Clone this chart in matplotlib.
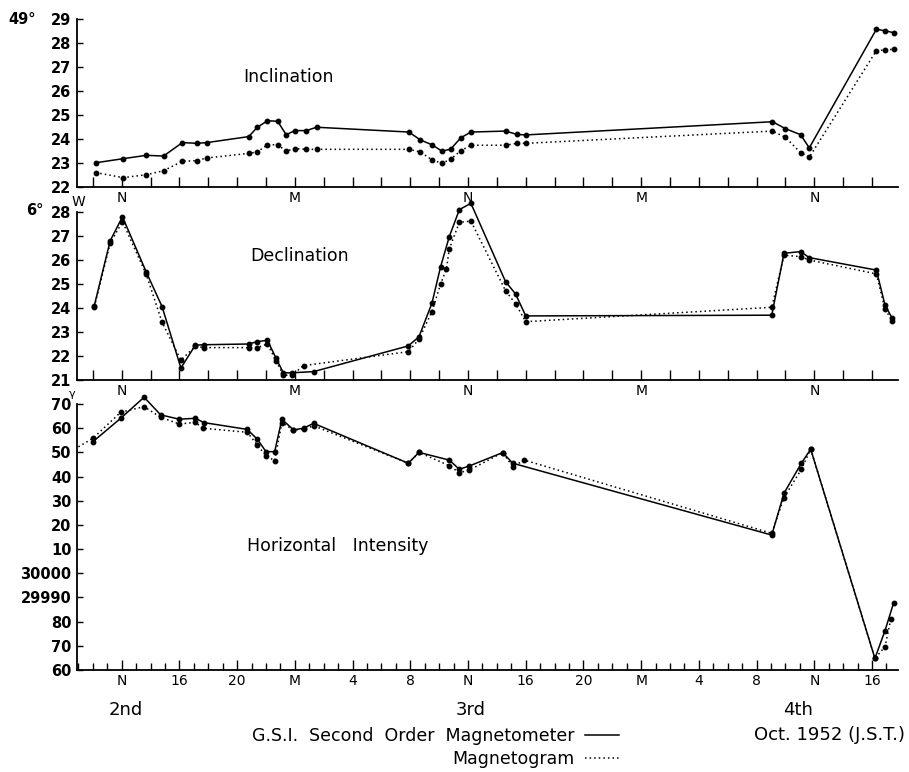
import matplotlib
matplotlib.use("Agg")
import matplotlib.pyplot as plt
from matplotlib.lines import Line2D
import numpy as np

# ---------------- data (hours counted from 00h, Oct 2nd, J.S.T.) ----------------
inc_hours = [10.2, 12.1, 13.7, 14.9, 16.2, 17.2, 17.9, 20.8, 21.4, 22.1, 22.8, 23.4, 24.0,
             24.8, 25.5, 31.9, 32.7, 33.5, 34.2, 34.8, 35.5, 36.2, 38.6, 39.4, 40.0,
             57.1, 58.0, 59.05, 59.65, 64.3, 64.9, 65.5]
inc_gsi = [23.01, 23.18, 23.32, 23.29, 23.85, 23.82, 23.85, 24.10, 24.49, 24.76, 24.74, 24.18,
           24.35, 24.35, 24.49, 24.29, 23.96, 23.76, 23.49, 23.58, 24.05, 24.29, 24.33, 24.19,
           24.17, 24.72, 24.43, 24.18, 23.63, 28.57, 28.51, 28.43]
inc_mag = [22.60, 22.39, 22.51, 22.68, 23.07, 23.10, 23.21, 23.40, 23.46, 23.76, 23.76, 23.50,
           23.60, 23.57, 23.57, 23.57, 23.46, 23.13, 22.99, 23.16, 23.51, 23.74, 23.74, 23.82,
           23.82, 24.33, 24.07, 23.43, 23.24, 27.68, 27.71, 27.74]

dec_gsi_hours = [10.1, 11.2, 12.05, 13.7, 14.8, 16.1, 17.1, 17.7, 20.8, 21.4, 22.1, 22.7, 23.2,
                 23.8, 25.3, 31.86, 32.6, 33.5, 34.1, 34.7, 35.4, 36.2, 38.6, 39.3, 40.0,
                 57.05, 57.9, 59.05, 59.65, 64.3, 64.9, 65.4]
dec_gsi = [24.10, 26.80, 27.80, 25.50, 24.05, 21.50, 22.45, 22.47, 22.50, 22.60, 22.65, 21.90,
           21.30, 21.30, 21.35, 22.42, 22.80, 24.20, 25.72, 26.97, 28.10, 28.36, 25.10, 24.58,
           23.67, 23.70, 26.28, 26.35, 26.10, 25.58, 24.12, 23.57]
dec_mag_hours = [10.1, 11.2, 12.05, 13.7, 14.8, 16.1, 17.1, 17.7, 20.8, 21.4, 22.1, 22.7, 23.2,
                 23.8, 24.6, 31.86, 32.6, 33.5, 34.1, 34.5, 34.7, 35.4, 36.2, 38.6, 39.3, 40.0,
                 57.05, 57.9, 59.05, 59.65, 64.3, 64.9, 65.4]
dec_mag = [24.05, 26.70, 27.60, 25.40, 23.40, 21.83, 22.40, 22.35, 22.35, 22.35, 22.50, 21.80,
           21.20, 21.20, 21.60, 22.18, 22.70, 23.85, 25.00, 25.62, 26.45, 27.57, 27.62, 24.72,
           24.17, 23.43, 24.03, 26.20, 26.14, 26.00, 25.42, 23.95, 23.47]

hor_gsi_hours = [10.0, 11.93, 13.55, 14.7, 16.0, 17.1, 17.7, 20.7, 21.4, 22.0, 22.6, 23.1, 23.9,
                 24.6, 25.3, 31.86, 32.6, 34.7, 35.4, 36.1, 38.4, 39.1, 57.05, 57.9, 59.1,
                 59.75, 64.2, 64.9, 65.5]
hor_gsi = [30054.4, 30064.1, 30072.8, 30065.5, 30063.7, 30064.1, 30062.3, 30059.5, 30055.4,
           30050.3, 30050.3, 30063.7, 30059.3, 30060.0, 30062.0, 30045.5, 30050.0, 30046.8,
           30043.0, 30044.4, 30049.9, 30045.5, 30015.8, 30033.1, 30045.5, 30051.3, 29964.8,
           29976.3, 29987.8]
hor_mag_hours = [9.0, 10.0, 11.93, 13.55, 14.7, 16.0, 17.1, 17.6, 20.7, 21.4, 22.0, 22.6, 23.1,
                 23.9, 24.6, 25.3, 31.86, 32.6, 34.7, 35.4, 36.1, 38.4, 39.1, 39.9, 57.05,
                 57.9, 59.1, 59.75, 64.2, 64.9, 65.3]
hor_mag = [30052.3, 30055.8, 30066.6, 30068.9, 30064.5, 30061.7, 30062.4, 30060.0, 30058.3,
           30053.0, 30048.5, 30046.6, 30062.3, 30059.3, 30059.5, 30061.0, 30045.5, 30050.0,
           30044.5, 30041.6, 30042.7, 30049.9, 30044.1, 30046.8, 30016.5, 30031.3, 30043.0,
           30051.3, 29964.8, 29969.6, 29981.0]

inc_ticks = [22, 23, 24, 25, 26, 27, 28, 29]
dec_ticks = [21, 22, 23, 24, 25, 26, 27, 28]
hor_ticks = [29960, 29970, 29980, 29990, 30000, 30010, 30020, 30030, 30040, 30050, 30060, 30070]
hor_tick_labels = ["60", "70", "80", "29990", "30000", "10", "20", "30", "40", "50", "60", "70"]

top_label_hours = [12, 24, 36, 48, 60]
top_label_text = ["N", "M", "N", "M", "N"]
bottom_label_hours = [12, 16, 20, 24, 28, 32, 36, 40, 44, 48, 52, 56, 60, 64]
bottom_label_text = ["N", "16", "20", "M", "4", "8", "N", "16", "20", "M", "4", "8", "N", "16"]
day_hours = [12.3, 36.2, 58.9]
day_text = ["2nd", "3rd", "4th"]

# ---------------- layout ----------------
W, H = 909, 772
fig = plt.figure(figsize=(W / 100, H / 100), dpi=100)
plt.rcParams['font.family'] = ['DejaVu Sans']

def ax_rect(x0, x1, ytop, ybot):
    return [x0 / W, 1 - ybot / H, (x1 - x0) / W, (ybot - ytop) / H]

def fx(px):
    return px / W

def fy(py):
    return 1 - py / H

x0, x1 = 77, 898
ax1 = fig.add_axes(ax_rect(x0, x1, 19, 187))
ax2 = fig.add_axes(ax_rect(x0, x1, 212, 380))
ax3 = fig.add_axes(ax_rect(x0, x1, 404, 670))

XMIN, XMAX = 8.9, 65.8
tick_font = dict(fontsize=10.5, fontweight='bold')

solid_kw = dict(color='black', linestyle='-', linewidth=1.1, marker='o', markersize=3.2,
                clip_on=False)
dot_kw = dict(color='black', linestyle=(0, (1, 2)), linewidth=1.1, marker='o', markersize=3.2,
              clip_on=False)

for ax in (ax1, ax2, ax3):
    ax.set_xlim(XMIN, XMAX)
    for s in ('top', 'right'):
        ax.spines[s].set_visible(False)
    ax.spines['left'].set_linewidth(1.3)
    ax.spines['bottom'].set_linewidth(1.3)
    ax.tick_params(axis='y', direction='in', length=4, width=1, pad=4, labelsize=10.5)
    ax.tick_params(axis='x', direction='in', length=7, width=1, pad=3, labelsize=10)
    ax.patch.set_alpha(0)

even_hours = np.arange(10, 66, 2)
top_labels = [top_label_text[top_label_hours.index(h)] if h in top_label_hours else ""
              for h in even_hours]

# Inclination
ax1.plot(inc_hours, inc_gsi, **solid_kw)
ax1.plot(inc_hours, inc_mag, **dot_kw)
ax1.set_ylim(22, 29)
ax1.set_yticks(inc_ticks)
ax1.set_yticklabels([str(t) for t in inc_ticks], **tick_font)
ax1.set_xticks(even_hours)
ax1.set_xticklabels(top_labels, fontsize=10)
ax1.text(9.0, -0.045, "W", transform=ax1.get_xaxis_transform(), ha='center', va='top',
         fontsize=10)
fig.text(fx(8), fy(19), "49°", ha='left', va='center', **tick_font)
fig.text(fx(243), fy(77), "Inclination", fontsize=12.5, va='center', ha='left')

# Declination
ax2.plot(dec_gsi_hours, dec_gsi, **solid_kw)
ax2.plot(dec_mag_hours, dec_mag, **dot_kw)
ax2.set_ylim(21, 28)
ax2.set_yticks(dec_ticks)
ax2.set_yticklabels([str(t) for t in dec_ticks], **tick_font)
ax2.set_xticks(even_hours)
ax2.set_xticklabels(top_labels, fontsize=10)
fig.text(fx(26), fy(210), "6°", ha='left', va='center', **tick_font)
fig.text(fx(250), fy(256), "Declination", fontsize=12.5, va='center', ha='left')

# Horizontal intensity
ax3.plot(hor_gsi_hours, hor_gsi, **solid_kw)
ax3.plot(hor_mag_hours, hor_mag, markevery=slice(1, None), **dot_kw)
ax3.set_ylim(29960, 30070)
ax3.set_yticks(hor_ticks)
ax3.set_yticklabels(hor_tick_labels, **tick_font)
ax3.set_xticks(np.arange(9, 66, 1), minor=True)
ax3.set_xticks(bottom_label_hours)
ax3.set_xticklabels(bottom_label_text, fontsize=10)
ax3.tick_params(axis='x', which='minor', direction='in', length=5, width=1)
fig.text(fx(69), fy(394), "γ", ha='left', va='center', fontsize=8)
fig.text(fx(247), fy(546), "Horizontal   Intensity", fontsize=12.5, va='center', ha='left')

# day labels
for h, t in zip(day_hours, day_text):
    ax3.text(h, -0.15, t, transform=ax3.get_xaxis_transform(), ha='center', va='center',
             fontsize=13)

fig.text(fx(905), fy(735), "Oct. 1952 (J.S.T.)", fontsize=13, ha='right', va='center')

handles = [Line2D([], [], color='black', linestyle='-', linewidth=1.1),
           Line2D([], [], color='black', linestyle=(0, (1, 2)), linewidth=1.1)]
fig.legend(handles, ["G.S.I.  Second  Order  Magnetometer", "Magnetogram"],
           markerfirst=False, frameon=False, fontsize=12.5, loc='upper right',
           bbox_to_anchor=(fx(628), fy(718)), handlelength=2.0, handletextpad=0.6,
           labelspacing=0.3, borderpad=0)

fig.savefig("out.png", dpi=100)
